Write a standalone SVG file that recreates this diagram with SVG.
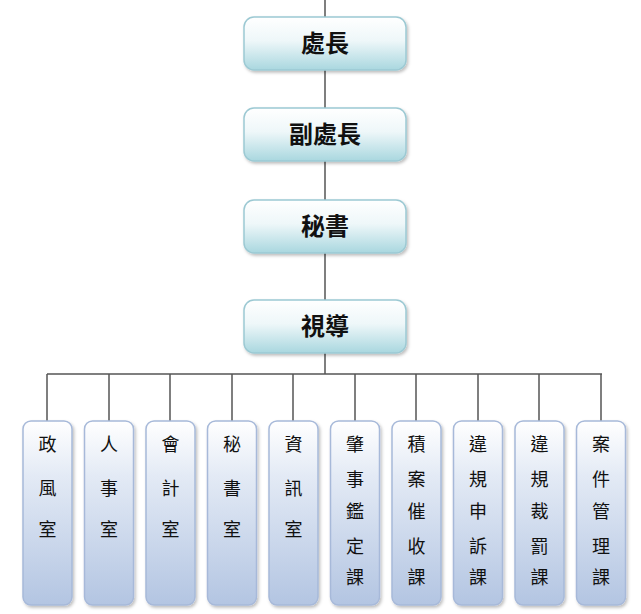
<svg xmlns="http://www.w3.org/2000/svg" width="641" height="614" viewBox="0 0 641 614">
<defs>
<linearGradient id="gt" x1="0" y1="0" x2="0" y2="1"><stop offset="0" stop-color="#ffffff"/><stop offset="0.45" stop-color="#eef7f9"/><stop offset="1" stop-color="#a9d7df"/></linearGradient>
<linearGradient id="gb" x1="0" y1="0" x2="0" y2="1"><stop offset="0" stop-color="#ffffff"/><stop offset="0.3" stop-color="#e3eaf5"/><stop offset="1" stop-color="#b3c5e2"/></linearGradient>
<filter id="sh" x="-10%" y="-10%" width="130%" height="130%"><feDropShadow dx="1.5" dy="2" stdDeviation="1.5" flood-color="#000" flood-opacity="0.25"/></filter>
</defs>
<style>
.t{fill:url(#gt);stroke:#9cc9d3;stroke-width:1.5;filter:url(#sh)}
.b{fill:url(#gb);stroke:#a7b9d9;stroke-width:1.5;filter:url(#sh)}
.tt{font-family:"Noto Sans CJK TC",sans-serif;font-size:24px;font-weight:bold;fill:#111;text-anchor:middle}
.bt{font-family:"Noto Sans CJK TC",sans-serif;font-size:18px;fill:#111;text-anchor:middle}
.c{stroke:#555;stroke-width:1.5;fill:none}
</style>
<g id="connectors">
<path class="c" d="M325 0V374M47 374H602"/>
<path class="c" d="M47 374V421M109 374V421M170 374V421M232 374V421M293 374V421M355 374V421M416 374V421M478 374V421M539 374V421M601 374V421"/>
</g>
<g id="n1"><rect class="t" x="244" y="17" width="162" height="53" rx="10"/><text class="tt" x="325" y="52">處長</text></g>
<g id="n2"><rect class="t" x="244" y="108" width="162" height="53" rx="10"/><text class="tt" x="325" y="143">副處長</text></g>
<g id="n3"><rect class="t" x="244" y="200" width="162" height="53" rx="10"/><text class="tt" x="325" y="235">秘書</text></g>
<g id="n4"><rect class="t" x="244" y="300" width="162" height="53" rx="10"/><text class="tt" x="325" y="335">視導</text></g>
<g id="b1"><rect class="b" x="23" y="421" width="49" height="184" rx="8"/><text class="bt"><tspan x="47.5" y="451">政</tspan><tspan x="47.5" y="495">風</tspan><tspan x="47.5" y="536">室</tspan></text></g>
<g id="b2"><rect class="b" x="84.5" y="421" width="49" height="184" rx="8"/><text class="bt"><tspan x="109" y="451">人</tspan><tspan x="109" y="495">事</tspan><tspan x="109" y="536">室</tspan></text></g>
<g id="b3"><rect class="b" x="146" y="421" width="49" height="184" rx="8"/><text class="bt"><tspan x="170.5" y="451">會</tspan><tspan x="170.5" y="495">計</tspan><tspan x="170.5" y="536">室</tspan></text></g>
<g id="b4"><rect class="b" x="207.5" y="421" width="49" height="184" rx="8"/><text class="bt"><tspan x="232" y="451">秘</tspan><tspan x="232" y="495">書</tspan><tspan x="232" y="536">室</tspan></text></g>
<g id="b5"><rect class="b" x="269" y="421" width="49" height="184" rx="8"/><text class="bt"><tspan x="293.5" y="451">資</tspan><tspan x="293.5" y="495">訊</tspan><tspan x="293.5" y="536">室</tspan></text></g>
<g id="b6"><rect class="b" x="330.5" y="421" width="49" height="184" rx="8"/><text class="bt"><tspan x="355" y="451">肇</tspan><tspan x="355" y="486">事</tspan><tspan x="355" y="518">鑑</tspan><tspan x="355" y="553">定</tspan><tspan x="355" y="584">課</tspan></text></g>
<g id="b7"><rect class="b" x="392" y="421" width="49" height="184" rx="8"/><text class="bt"><tspan x="416.5" y="451">積</tspan><tspan x="416.5" y="486">案</tspan><tspan x="416.5" y="518">催</tspan><tspan x="416.5" y="553">收</tspan><tspan x="416.5" y="584">課</tspan></text></g>
<g id="b8"><rect class="b" x="453.5" y="421" width="49" height="184" rx="8"/><text class="bt"><tspan x="478" y="451">違</tspan><tspan x="478" y="486">規</tspan><tspan x="478" y="518">申</tspan><tspan x="478" y="553">訴</tspan><tspan x="478" y="584">課</tspan></text></g>
<g id="b9"><rect class="b" x="515" y="421" width="49" height="184" rx="8"/><text class="bt"><tspan x="539.5" y="451">違</tspan><tspan x="539.5" y="486">規</tspan><tspan x="539.5" y="518">裁</tspan><tspan x="539.5" y="553">罰</tspan><tspan x="539.5" y="584">課</tspan></text></g>
<g id="b10"><rect class="b" x="576.5" y="421" width="49" height="184" rx="8"/><text class="bt"><tspan x="601" y="451">案</tspan><tspan x="601" y="486">件</tspan><tspan x="601" y="518">管</tspan><tspan x="601" y="553">理</tspan><tspan x="601" y="584">課</tspan></text></g>
</svg>
